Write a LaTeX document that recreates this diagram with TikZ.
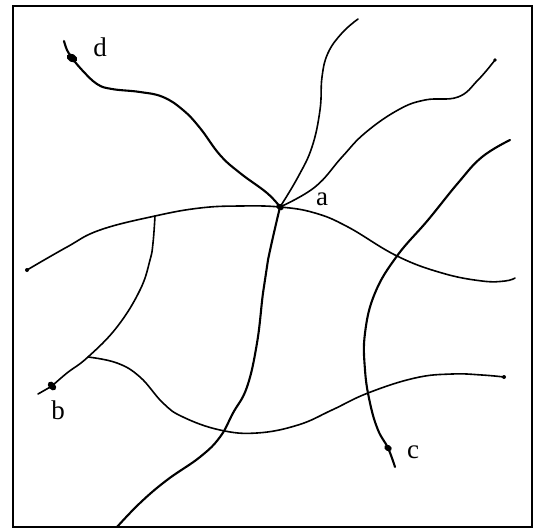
\documentclass[tikz,border=0pt]{standalone}
\usepackage{fontspec}
\setmainfont{Liberation Serif}
\usetikzlibrary{shapes.geometric}
\begin{document}
\begin{tikzpicture}[x=1pt,y=-1pt,
  curve/.style={line width=1.6pt,line cap=round,line join=round},
  heavy/.style={line width=2.1pt,line cap=round,line join=round},
  blob/.style={fill=black,ellipse,inner sep=0pt,minimum width=8pt,minimum height=6pt},
  lbl/.style={font=\fontsize{27}{32}\selectfont,inner sep=0pt}]
\useasboundingbox (0,0) rectangle (545,530);
\draw[line width=1.8pt] (13,6) rectangle (532,527);
% named points
\coordinate (a) at (280,207);
\coordinate (b) at (52,386);
\coordinate (c) at (388,448);
\coordinate (d) at (72,58);
\coordinate (p1) at (155,216);
\coordinate (p2) at (88,357);
\coordinate (p3) at (397,256);
% d to a
\draw[heavy] plot[smooth,tension=0.7] coordinates {(64,41) (67,50) (d)};
\draw[heavy] plot[smooth,tension=0.7] coordinates {(d) (82,70) (97,84) (112,89) (140,92) (163,97) (183,110) (200,128) (220,155) (240,173) (267,193) (a)};
% a up to top
\draw[curve] plot[smooth,tension=0.7] coordinates {(a) (298,177) (312,147) (320,110) (322,77) (328,53) (342,33) (358,19)};
% a to upper right
\draw[curve] plot[smooth,tension=0.7] coordinates {(a) (315,187) (342,157) (365,133) (398,110) (425,100) (458,97) (478,80) (495,60)};
% upper horizontal
\draw[curve] plot[smooth,tension=0.7] coordinates {(27,270) (67,247) (100,230) (p1) (200,208) (240,206) (a) (315,213) (348,227) (p3) (442,273) (482,281) (505,281) (515,278)};
% a down to bottom
\draw[heavy] plot[smooth,tension=0.7] coordinates {(a) (268,260) (263,293) (257,343) (247,387) (233,413) (220,437) (200,457) (167,480) (140,503) (117,527)};
% left curve to b
\draw[curve] plot[smooth,tension=0.7] coordinates {(p1) (153,243) (150,260) (140,290) (117,327) (p2) (67,373) (b)};
\draw[curve] (b) -- (38,394);
% lower horizontal
\draw[curve] plot[smooth,tension=0.7] coordinates {(p2) (117,363) (140,377) (163,403) (183,417) (220,430) (257,433) (298,425) (332,410) (368,393) (415,378) (452,374) (482,375) (504,377)};
% right curve to c
\draw[heavy] plot[smooth,tension=0.7] coordinates {(510,140) (482,157) (458,183) (428,220) (p3) (375,293) (365,333) (365,370) (370,403) (378,430) (c) (395,467)};
% blobs
\node[blob,rotate=-30] (da) at (a) {};
\node[blob,rotate=-50,minimum width=10pt,minimum height=7pt] (db) at (b) {};
\node[blob,rotate=-30] (dc) at (c) {};
\node[blob,rotate=-30,minimum width=11pt,minimum height=8pt] (dd) at (d) {};
\fill (27,270) circle (2pt);
\fill (504,377) circle (2pt);
\fill (495,60) circle (1.8pt);
% labels
\node[lbl] (la) at (322,199) {a};
\node[lbl] (lb) at (58,410) {b};
\node[lbl] (lc) at (413,452) {c};
\node[lbl] (ld) at (100,47) {d};
\end{tikzpicture}
\end{document}
